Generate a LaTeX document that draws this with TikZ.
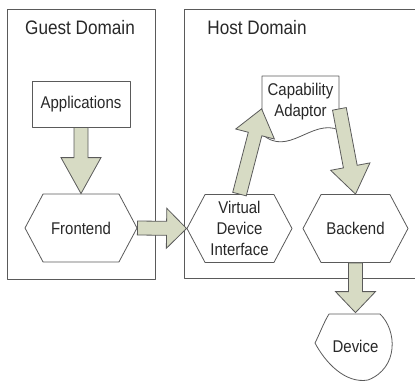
\documentclass[tikz,border=0pt]{standalone}
\usepackage{fontspec}
\setmainfont{Liberation Sans}[FakeStretch=0.88]
\usetikzlibrary{calc, shapes.symbols, positioning}
\definecolor{boxgray}{RGB}{90,90,90}
\definecolor{arrowfill}{RGB}{215,219,196}
\definecolor{textgray}{RGB}{40,40,40}

\tikzset{
  domainbox/.style={draw=boxgray, line width=0.9pt},
  domainlabel/.style={font=\fontsize{19.5}{22}\selectfont, text=textgray},
  box/.style={draw=boxgray, fill=white, line width=0.8pt, inner sep=0pt, font=\fontsize{17}{21}\selectfont, text=textgray, align=center},
  hexbox/.style={box, shape=signal, signal to=east and west, signal pointer angle=124, minimum width=112, minimum height=68},
  blockarrow/.style={draw=boxgray, fill=arrowfill, line width=0.8pt, line join=miter},
}

% block arrow: tail, tip, head length
\newcommand{\blockarrow}[3]{%
  \path ($(#2)!#3!(#1)$) coordinate (hb);
  \filldraw[blockarrow] ($(#1)!7pt!90:(#2)$) -- ($(hb)!7pt!90:(#2)$) -- ($(hb)!20pt!90:(#2)$) -- (#2)
    -- ($(hb)!20pt!-90:(#2)$) -- ($(hb)!7pt!-90:(#2)$) -- ($(#1)!7pt!-90:(#2)$) -- cycle;
}

\begin{document}
\begin{tikzpicture}[x=1pt, y=-1pt, line cap=round, line join=round]
	\useasboundingbox (0,0) rectangle (415,381);

	% domains
	\draw[domainbox] (7,9) rectangle (155,279);
	\draw[domainbox] (184,9) rectangle (425,278);
	\node[domainlabel] (guestlbl) at (80,28) {Guest Domain};
	\node[domainlabel] (hostlbl) at (257,28) {Host Domain};

	% guest side
	\node[box, minimum width=98, minimum height=46] (app) at (81,104) {Applications};
	\node[hexbox] (fe) at (81,228) {Frontend};

	% host side
	\node[hexbox, minimum width=105] (vdi) at (239.5,228.5) {Virtual\\Device\\Interface};
	\node[hexbox, minimum width=105] (be) at (355.5,228.5) {Backend};

	% capability adaptor (document shape)
	\draw[box] (262,76) -- (339,76) -- (339,130) .. controls (312,118) and (288,158) .. (262,134) -- cycle;
	\node[box, draw=none, fill=none, minimum width=77, minimum height=52] (cap) at (300.5,102) {Capability\\Adaptor};

	% device
	\draw[box] (329,314) -- (380,314) .. controls (397,330) and (399,368) .. (368,380)
		.. controls (345,384) and (325,362) .. (315,343) .. controls (320,333) and (324,322) .. (329,314);
	\node[box, draw=none, fill=none, minimum width=80, minimum height=66] (dev) at (355.5,346) {Device};

	% arrows
	\blockarrow{app.south}{fe.north}{36pt}
	\blockarrow{fe.east}{vdi.west}{20pt}
	\blockarrow{vdi.north}{cap.190}{26pt}
	\blockarrow{cap.350}{be.north}{28pt}
	\blockarrow{be.south}{dev.north}{21pt}
\end{tikzpicture}
\end{document}
